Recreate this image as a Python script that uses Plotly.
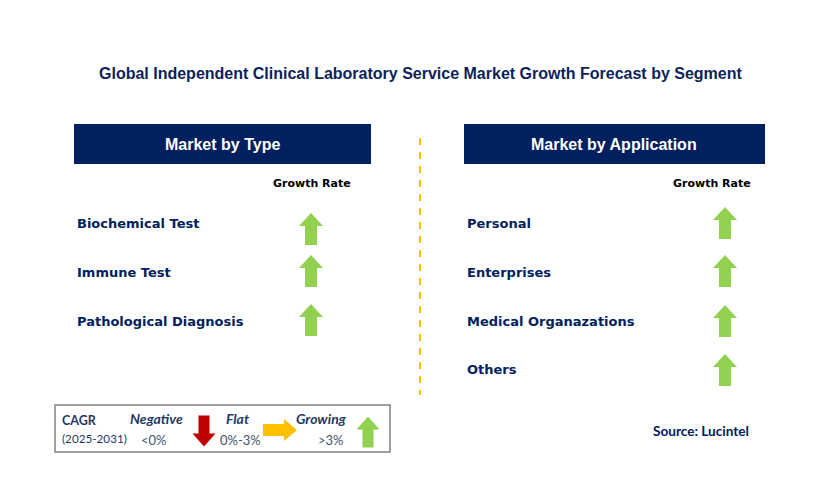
import plotly.graph_objects as go

title = "Global Independent Clinical Laboratory Service Market Growth Forecast by Segment"
type_header = "Market by Type"
app_header = "Market by Application"
type_segments = ["Biochemical Test", "Immune Test", "Pathological Diagnosis"]
type_growth = ["up", "up", "up"]
app_segments = ["Personal", "Enterprises", "Medical Organazations", "Others"]
app_growth = ["up", "up", "up", "up"]
legend_labels = ["Negative", "Flat", "Growing"]
legend_ranges = ["<0%", "0%-3%", ">3%"]
legend_dirs = ["down", "right", "up"]
source = "Source: Lucintel"

NAVY = "#002060"
GREEN = "#92d050"
COLORS = {"up": GREEN, "down": "#c00000", "right": "#ffc000"}

W, H = 829, 480
fig = go.Figure()


def arrow(cx, cy, direction, length=32, head_w=24, shaft_w=12, head_len=13):
    hl, hw, sw = length / 2, head_w / 2, shaft_w / 2
    base = length - head_len - hl
    pts = [(-hl, -sw), (base, -sw), (base, -hw), (hl, 0), (base, hw), (base, sw), (-hl, sw)]
    xs, ys = [], []
    for u, v in pts:
        if direction == "up":
            xs.append(cx + v); ys.append(cy - u)
        elif direction == "down":
            xs.append(cx + v); ys.append(cy + u)
        else:
            xs.append(cx + u); ys.append(cy + v)
    xs.append(xs[0]); ys.append(ys[0])
    fig.add_trace(go.Scatter(x=xs, y=ys, mode="lines", fill="toself",
                             fillcolor=COLORS[direction], line=dict(width=0),
                             hoverinfo="skip", showlegend=False))


label_font = dict(family="DejaVu Sans", size=13, color=NAVY)

# left panel
fig.add_shape(type="rect", x0=74, x1=371, y0=124, y1=164, fillcolor=NAVY, line_width=0, layer="below")
fig.add_annotation(x=222, y=144, text="<b>%s</b>" % type_header, showarrow=False,
                   font=dict(family="Liberation Sans", size=16, color="white"))
fig.add_annotation(x=312, y=183, text="<b>Growth Rate</b>", showarrow=False,
                   font=dict(family="DejaVu Sans", size=11, color="black"))
type_rows = [223, 272, 321]
type_arrow_y = [229, 271, 320]
for i, (seg, g) in enumerate(zip(type_segments, type_growth)):
    fig.add_annotation(x=75, y=type_rows[i], text="<b>%s</b>" % seg, showarrow=False,
                       xanchor="left", font=label_font)
    arrow(311, type_arrow_y[i], g)

# right panel
fig.add_shape(type="rect", x0=464, x1=765, y0=124, y1=164, fillcolor=NAVY, line_width=0, layer="below")
fig.add_annotation(x=614, y=144, text="<b>%s</b>" % app_header, showarrow=False,
                   font=dict(family="Liberation Sans", size=16, color="white"))
fig.add_annotation(x=712, y=183, text="<b>Growth Rate</b>", showarrow=False,
                   font=dict(family="DejaVu Sans", size=11, color="black"))
app_rows = [223, 272, 321, 369]
app_arrow_y = [223, 271, 321, 370]
for i, (seg, g) in enumerate(zip(app_segments, app_growth)):
    fig.add_annotation(x=465, y=app_rows[i], text="<b>%s</b>" % seg, showarrow=False,
                       xanchor="left", font=label_font)
    arrow(725, app_arrow_y[i], g)

# divider
fig.add_shape(type="line", x0=420, x1=420, y0=138, y1=395,
              line=dict(color="#ffc000", width=2, dash="7px,7px"))

# title
fig.add_annotation(x=420, y=73, text="<b>%s</b>" % title, showarrow=False,
                   font=dict(family="Liberation Sans", size=16, color="#0d1f5c"))

# legend box
fig.add_shape(type="rect", x0=55, x1=390, y0=405, y1=452, fillcolor="white",
              line=dict(color="#808080", width=1.5), layer="below")
fig.add_annotation(x=60, y=420, text="<b>CAGR</b>", showarrow=False, xanchor="left",
                   font=dict(family="Lato", size=12.5, color="#1f3864"))
fig.add_annotation(x=60, y=438, text="(2025-2031)", showarrow=False, xanchor="left",
                   font=dict(family="Lato", size=11.7, color="#1f3864"))
leg_label_x = [156, 237, 321]
leg_range_x = [154, 240, 331]
leg_arrow = [(204, 431), (280, 430), (368, 432)]
for lab, rng, d, lx, rx, (ax, ay) in zip(legend_labels, legend_ranges, legend_dirs,
                                          leg_label_x, leg_range_x, leg_arrow):
    fig.add_annotation(x=lx, y=418, text="<b><i>%s</i></b>" % lab, showarrow=False,
                       font=dict(family="Lato", size=14, color="#1f3864"))
    fig.add_annotation(x=rx, y=440, text=rng, showarrow=False,
                       font=dict(family="Lato", size=13, color="#44546a"))
    if d == "right":
        arrow(ax, ay, d, length=34, head_w=22, shaft_w=12, head_len=13)
    else:
        arrow(ax, ay, d, length=31, head_w=23, shaft_w=11, head_len=13)

# source
fig.add_annotation(x=701, y=431, text="<b>%s</b>" % source, showarrow=False,
                   font=dict(family="Lato", size=13.6, color=NAVY))

fig.update_layout(
    width=W, height=H, margin=dict(l=0, r=0, t=0, b=0),
    paper_bgcolor="white", plot_bgcolor="white",
    xaxis=dict(range=[0, W], visible=False, fixedrange=True),
    yaxis=dict(range=[H, 0], visible=False, fixedrange=True),
    showlegend=False,
)
fig.write_html("out.html", config={"displayModeBar": False},
               post_script="document.body.style.margin='0';document.body.style.overflow='hidden';")
